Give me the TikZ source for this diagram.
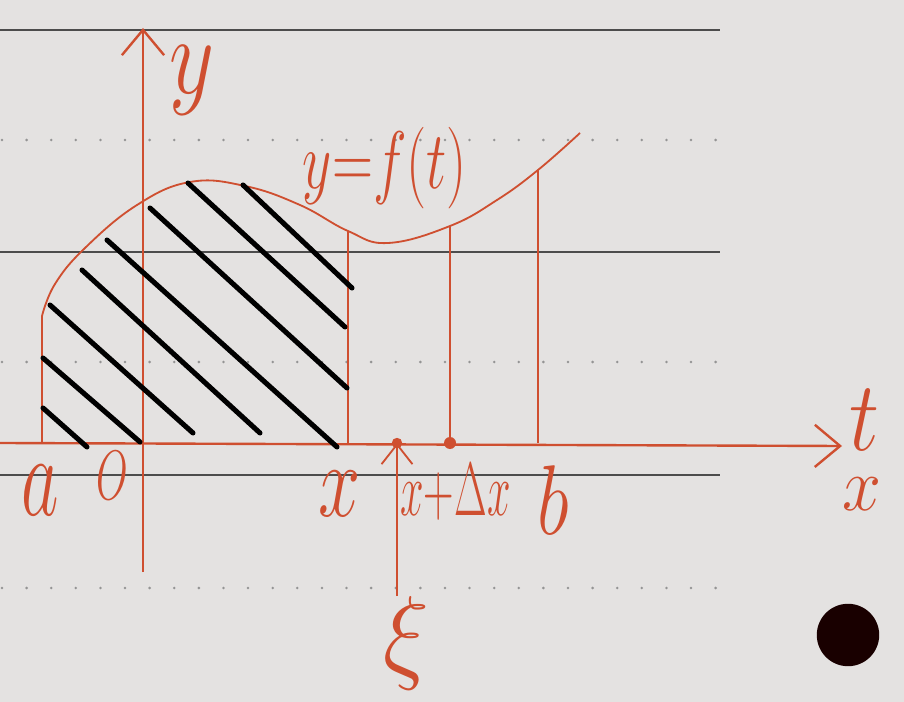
\documentclass[tikz,border=0pt]{standalone}
\usepackage{tikz}
\usetikzlibrary{positioning,arrows.meta}
\definecolor{ink}{HTML}{CF4F30}
\definecolor{paper}{HTML}{E4E2E1}
\definecolor{rulegray}{HTML}{4C4C4C}
\tikzset{
  pen/.style={draw=ink,line width=1.3pt},
  axis/.style={draw=ink,line width=1.7pt,-{Straight Barb[length=18pt,width=30pt,line width=1.7pt]}},
  hatchline/.style={draw=black,line width=3.6pt,line cap=round},
  ruled/.style={draw=rulegray,line width=1.2pt},
  dotrule/.style={draw=rulegray!60,line width=2pt,line cap=round,dash pattern=on 0pt off 17.5pt},
  hand/.style={text=ink,inner sep=0pt,font=\huge}
}
\begin{document}
\begin{tikzpicture}[x=0.025cm,y=-0.025cm]
\fill[paper] (0,0) rectangle (904,702);
\useasboundingbox (0,0) rectangle (904,702);
% the ruled paper
\foreach \r in {30,252,475}
  \draw[ruled] (0,\r) -- (720,\r);
\foreach \r in {140,362,588}
  \draw[dotrule] (2,\r) -- (725,\r);
% axes
\coordinate (O) at (143,443);
\coordinate (ybot) at (143,572);
\coordinate (ytop) at (143,28);
\coordinate (tleft) at (0,443);
\coordinate (tright) at (842,446);
\draw[axis] (ybot) -- (ytop);
\draw[axis] (tleft) -- (tright);
% the curve and the ordinates
\coordinate (a) at (42,443);
\coordinate (fa) at (42,316);
\coordinate (x) at (348,443);
\coordinate (fx) at (348,231);
\coordinate (xi) at (397,443);
\coordinate (xdx) at (450,443);
\coordinate (fxdx) at (450,226);
\coordinate (b) at (538,443);
\coordinate (fb) at (538,170);
\draw[pen] plot[smooth,tension=0.7] coordinates {
  (fa) (55,284) (85,248) (137,205) (190,182) (245,186) (300,205)
  (fx) (388,243) (fxdx) (497,200) (fb) (580,133)};
\foreach \p/\q in {a/fa,x/fx,xdx/fxdx,b/fb}
  \draw[pen] (\p) -- (\q);
% hatching
\foreach \u/\v/\s/\w in {
  43/408/87/447,
  43/358/140/442,
  50/305/193/433,
  82/270/260/433,
  107/240/337/447,
  150/208/347/388,
  188/183/345/327,
  243/185/352/288}
  \draw[hatchline] (\u,\v) -- (\s,\w);
\fill[ink] (xi) circle (0.13cm);
\fill[ink] (xdx) circle (0.15cm);
% labels
\node[hand,xscale=2.5,yscale=4] (la) at (40,490) {$a$};
\node[hand,xscale=1.4,yscale=2.4] (lO) at (112,476) {$O$};
\node[hand,xscale=2.6,yscale=3.6] (lx) at (340,494) {$x$};
\node[hand,xscale=1.45,yscale=2.6,anchor=west] (lxdx) at (400,492) {$x{+}\Delta x$};
\node[hand,xscale=2.6,yscale=3.4] (lb) at (553,500) {$b$};
\node[hand,xscale=3,yscale=3.8] (ly) at (192,80) {$y$};
\node[hand,xscale=1.95,yscale=2.8] (lf) at (385,168) {$y{=}f(t)$};
\node[hand,xscale=2.9,yscale=3.4] (lt) at (864,420) {$t$};
\node[hand,xscale=2.4,yscale=2.6] (ltx) at (862,494) {$x$};
\node[hand,xscale=3.3,yscale=3.6,anchor=north] (lxi) at (406,596) {$\xi$};
\draw[pen,-{Straight Barb[length=14pt,width=22pt,line width=1.3pt]}] (lxi.north -| xi) -- (xi);
% the black dot
\fill[black!90!red] (848,635) circle (0.78cm);
\end{tikzpicture}
\end{document}
